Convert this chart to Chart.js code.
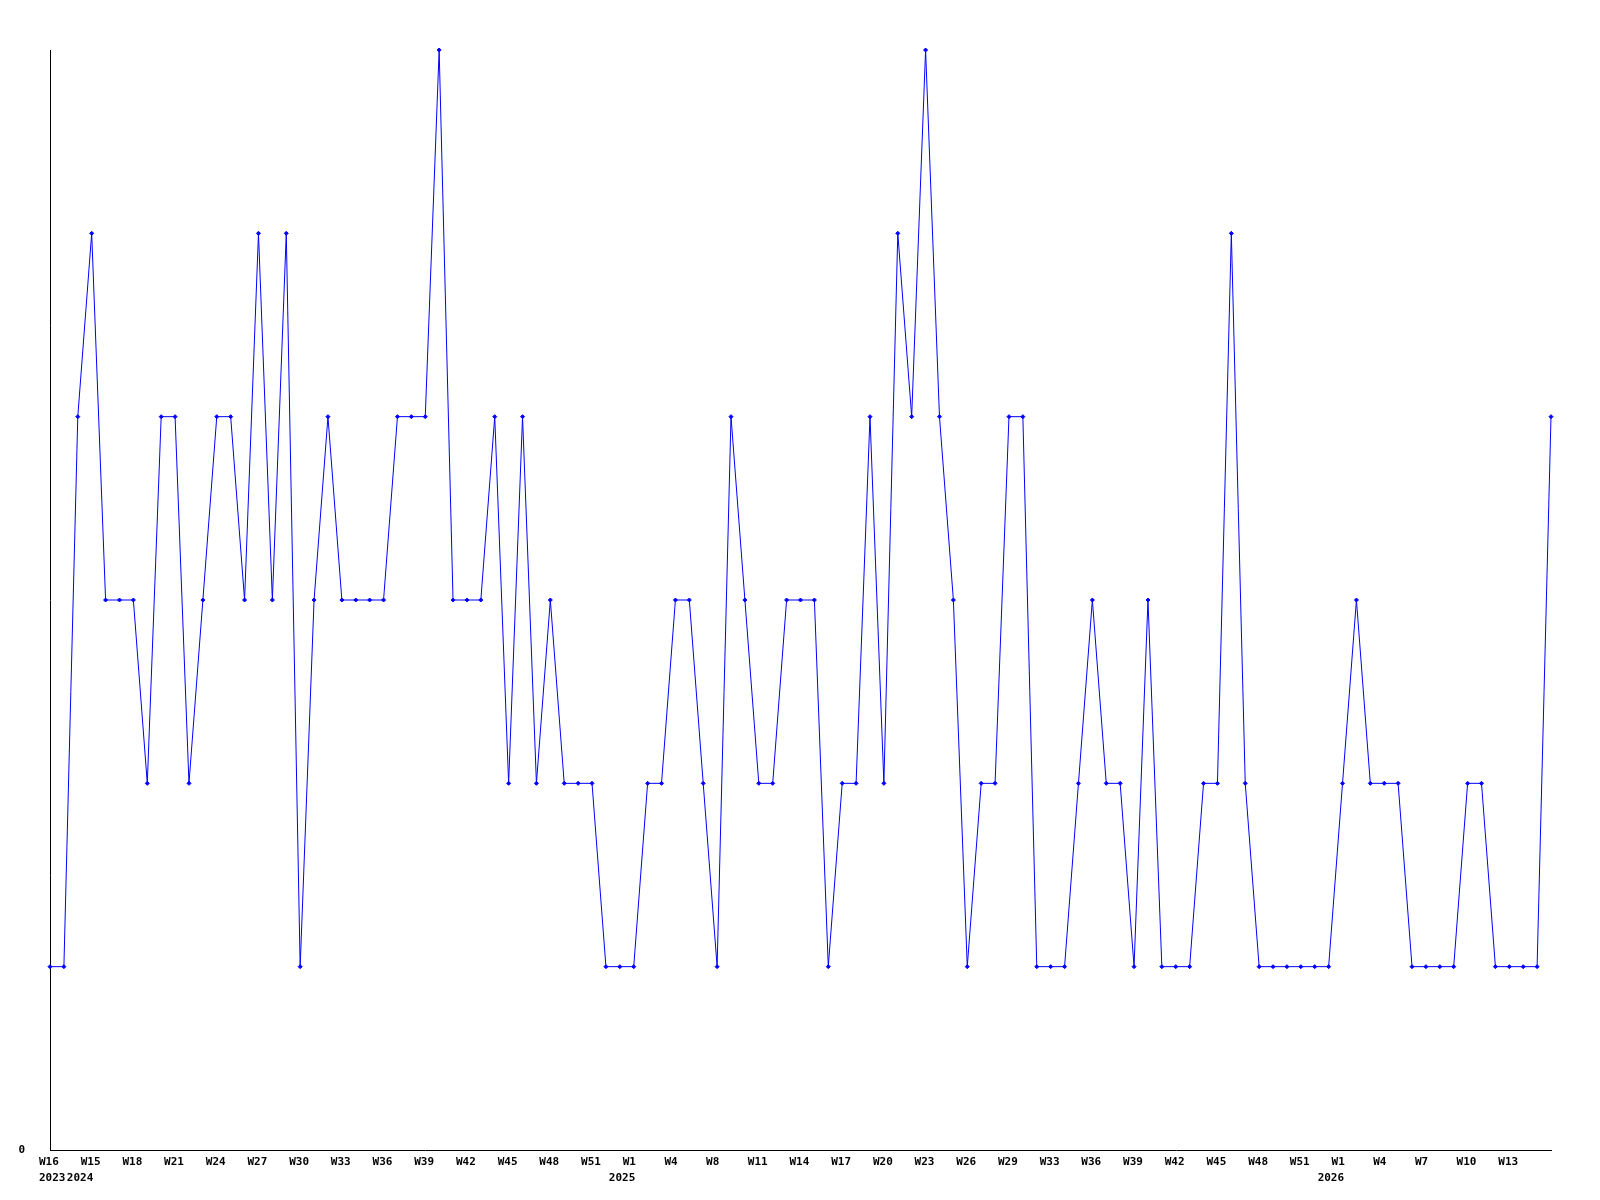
<!DOCTYPE html>
<html lang="en">
<head>
    <meta charset="UTF-8">
    <title>Weekly count</title>
    <script src="https://cdn.jsdelivr.net/npm/chart.js"></script>
    <style>
        body { margin: 0; background: #fff; }
        canvas { display: block; }
    </style>
</head>
<body>
    <canvas id="grafico" width="1600" height="1200"></canvas>

<script>
    // semanas (ano-semana), na ordem dos pontos
    const semanas = [
        '2023-W16', '2023-W17',
        '2024-W14', '2024-W15', '2024-W16', '2024-W17', '2024-W18', '2024-W19', '2024-W20', '2024-W21',
        '2024-W22', '2024-W23', '2024-W24', '2024-W25', '2024-W26', '2024-W27', '2024-W28', '2024-W29',
        '2024-W30', '2024-W31', '2024-W32', '2024-W33', '2024-W34', '2024-W35', '2024-W36', '2024-W37',
        '2024-W38', '2024-W39', '2024-W40', '2024-W41', '2024-W42', '2024-W43', '2024-W44', '2024-W45',
        '2024-W46', '2024-W47', '2024-W48', '2024-W49', '2024-W50', '2024-W51', '2024-W52',
        '2025-W0', '2025-W1', '2025-W2', '2025-W3', '2025-W4', '2025-W5', '2025-W7', '2025-W8',
        '2025-W9', '2025-W10', '2025-W11', '2025-W12', '2025-W13', '2025-W14', '2025-W15', '2025-W16',
        '2025-W17', '2025-W18', '2025-W19', '2025-W20', '2025-W21', '2025-W22', '2025-W23', '2025-W24',
        '2025-W25', '2025-W26', '2025-W27', '2025-W28', '2025-W29', '2025-W30', '2025-W32', '2025-W33',
        '2025-W34', '2025-W35', '2025-W36', '2025-W37', '2025-W38', '2025-W39', '2025-W40', '2025-W41',
        '2025-W42', '2025-W43', '2025-W44', '2025-W45', '2025-W46', '2025-W47', '2025-W48', '2025-W49',
        '2025-W50', '2025-W51', '2025-W52',
        '2026-W0', '2026-W1', '2026-W2', '2026-W3', '2026-W4', '2026-W5', '2026-W6', '2026-W7',
        '2026-W8', '2026-W9', '2026-W10', '2026-W11', '2026-W12', '2026-W13', '2026-W14', '2026-W15',
        '2026-W16'
    ];

    // valores
    const valores = [
        1, 1, 4, 5, 3, 3, 3, 2, 4, 4,
        2, 3, 4, 4, 3, 5, 3, 5, 1, 3,
        4, 3, 3, 3, 3, 4, 4, 4, 6, 3,
        3, 3, 4, 2, 4, 2, 3, 2, 2, 2,
        1, 1, 1, 2, 2, 3, 3, 2, 1, 4,
        3, 2, 2, 3, 3, 3, 1, 2, 2, 4,
        2, 5, 4, 6, 4, 3, 1, 2, 2, 4,
        4, 1, 1, 1, 2, 3, 2, 2, 1, 3,
        1, 1, 1, 2, 2, 5, 2, 1, 1, 1,
        1, 1, 1, 2, 3, 2, 2, 2, 1, 1,
        1, 1, 2, 2, 1, 1, 1, 1, 4
    ];

    const ticksY = [0];

    // o ano aparece onde o primeiro ano novo foi desenhado
    const anosMarcados = ['2023-W16', '2024-W14', '2025-W0', '2026-W0'];

    const fonte = { family: 'DejaVu Sans Mono', size: 11, weight: 'bold' };

    const config = {
        type: 'line',
        data: {
            labels: semanas,
            datasets: [{
                data: valores,
                borderColor: '#0000ff',
                backgroundColor: '#0000ff',
                borderWidth: 1,
                pointStyle: 'rectRot',
                pointRadius: 2,
                pointBorderWidth: 1,
                tension: 0,
                fill: false,
                clip: false
            }]
        },
        options: {
            responsive: false,
            animation: false,
            layout: { padding: { top: 50, right: 49, bottom: 0, left: 0 } },
            plugins: {
                legend: { display: false },
                tooltip: { enabled: false }
            },
            scales: {
                x: {
                    type: 'category',
                    offset: false,
                    weight: 0,
                    grid: { display: false, drawTicks: false },
                    border: { display: true, color: '#000', width: 1 },
                    afterFit: function (s) { s.height = 15; },
                    ticks: {
                        autoSkip: false,
                        maxRotation: 0,
                        minRotation: 0,
                        align: 'start',
                        labelOffset: -11,
                        padding: 6,
                        color: '#000',
                        font: fonte,
                        callback: function (v, i) {
                            // a ultima semana nao tem rotulo
                            if (i % 3 !== 0 || i === semanas.length - 1) return '';
                            return semanas[i].split('-')[1];
                        }
                    }
                },
                x2: {
                    type: 'category',
                    labels: semanas,
                    position: 'bottom',
                    offset: false,
                    weight: 1,
                    grid: { display: false, drawTicks: false },
                    border: { display: false },
                    afterFit: function (s) { s.height = 35; },
                    ticks: {
                        autoSkip: false,
                        maxRotation: 0,
                        minRotation: 0,
                        align: 'start',
                        labelOffset: -11,
                        padding: 7,
                        color: '#000',
                        font: fonte,
                        callback: function (v, i) {
                            return anosMarcados.includes(semanas[i]) ? semanas[i].split('-')[0] : '';
                        }
                    }
                },
                y: {
                    min: 0,
                    max: 6,
                    grid: { display: false, drawTicks: false },
                    border: { display: true, color: '#000', width: 1 },
                    afterFit: function (s) { s.width = 50; },
                    ticks: {
                        stepSize: 1,
                        padding: 25,
                        color: '#000',
                        font: fonte,
                        callback: function (v) {
                            return ticksY.includes(v) ? String(v) : '';
                        }
                    }
                }
            }
        }
    };

    let myChart = new Chart(document.getElementById('grafico'), config);
</script>
</body>
</html>
